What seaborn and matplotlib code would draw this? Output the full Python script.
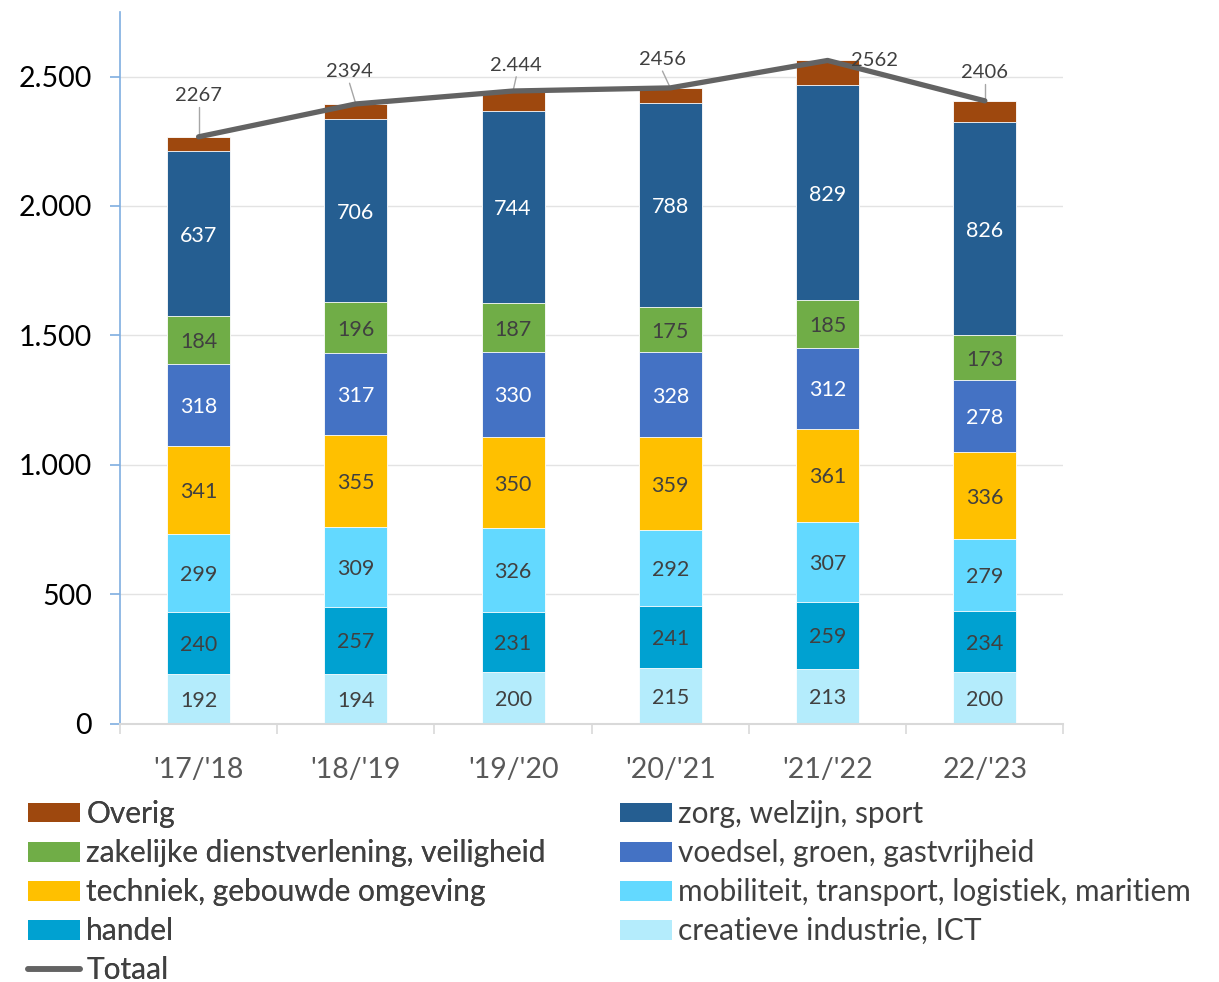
import matplotlib
matplotlib.use("Agg")
import matplotlib.pyplot as plt
import seaborn as sns
import numpy as np
import pandas as pd
from matplotlib.patches import Patch
from matplotlib.lines import Line2D

years = ["'17/'18", "'18/'19", "'19/'20", "'20/'21", "'21/'22", "22/'23"]
creatieve = [192, 194, 200, 215, 213, 200]
handel = [240, 257, 231, 241, 259, 234]
mobiliteit = [299, 309, 326, 292, 307, 279]
techniek = [341, 355, 350, 359, 361, 336]
voedsel = [318, 317, 330, 328, 312, 278]
zakelijk = [184, 196, 187, 175, 185, 173]
zorg = [637, 706, 744, 788, 829, 826]
overig = [56, 60, 76, 58, 96, 80]
totaal = [2267, 2394, 2444, 2456, 2562, 2406]
totaal_labels = ["2267", "2394", "2.444", "2456", "2562", "2406"]

series_names = ["creatieve industrie, ICT", "handel", "mobiliteit, transport, logistiek, maritiem",
                "techniek, gebouwde omgeving", "voedsel, groen, gastvrijheid",
                "zakelijke dienstverlening, veiligheid", "zorg, welzijn, sport", "Overig"]
series_vals = [creatieve, handel, mobiliteit, techniek, voedsel, zakelijk, zorg, overig]
colors = ["#B4ECFC", "#00A1D1", "#63D9FF", "#FFC000", "#4472C4", "#70AD47", "#255E91", "#9E480E"]
label_colors = ["#404040", "#404040", "#404040", "#404040", "white", "#404040", "white", None]

sns.set_theme(style="white")
plt.rcParams['font.family'] = ['Lato', 'DejaVu Sans']

fig = plt.figure(figsize=(12.19, 9.82), dpi=100)
ax = fig.add_axes([0.0984, 0.263, 0.774, 0.725])

arr = np.array(series_vals, dtype=float)
cum = np.cumsum(arr, axis=0)
bottoms = cum - arr

# draw cumulative from top down so lower ones overlay
for i in range(len(series_vals) - 1, -1, -1):
    df = pd.DataFrame({"year": years, "v": cum[i]})
    sns.barplot(data=df, x="year", y="v", color=colors[i], width=0.4, ax=ax,
                saturation=1, edgecolor="white", linewidth=0.6, zorder=2)

# segment labels
for i in range(len(series_vals) - 1):
    for j in range(len(years)):
        ax.text(j, bottoms[i, j] + arr[i, j] / 2 - 8, str(series_vals[i][j]),
                ha="center", va="center", fontsize=15.5, color=label_colors[i], zorder=4)

# total line
dfl = pd.DataFrame({"x": np.arange(len(years)), "t": totaal})
sns.lineplot(data=dfl, x="x", y="t", color="#636363", linewidth=3.8, ax=ax, zorder=5)

# total labels with leader lines
offsets = [(0, 160), (-0.04, 125), (0.02, 100), (-0.05, 110), (0.3, 0), (0, 110)]
for j, (dx, dy) in enumerate(offsets):
    lx, ly = j + dx, totaal[j] + dy
    ax.text(lx, ly, totaal_labels[j], ha="center", va="center", fontsize=14.5,
            color="#404040", zorder=6)
    if dy > 0:
        ax.plot([lx, j], [ly - 45, totaal[j]], color="#A6A6A6", lw=1, zorder=4)

ax.set_xlim(-0.5, len(years) - 0.5)
ax.set_ylim(0, 2750)
ax.set_yticks([0, 500, 1000, 1500, 2000, 2500])
ax.set_yticklabels(["0", "500", "1.000", "1.500", "2.000", "2.500"], fontsize=20.5, color="black")
ax.set_xticks(range(len(years)))
ax.set_xticklabels(years, fontsize=20.5, color="#595959")
ax.set_xticks(np.arange(-0.5, len(years)), minor=True)
ax.tick_params(axis="x", which="major", length=0, pad=24)
ax.tick_params(axis="x", which="minor", length=7, color="#D9D9D9", width=1.2, bottom=True)
ax.tick_params(axis="y", which="major", length=7, color="#7FAEE0", width=1.2, left=True, pad=13)
ax.set_xlabel("")
ax.set_ylabel("")
ax.grid(axis="y", color="#E3E3E3", lw=1, zorder=0)
ax.set_axisbelow(True)
for s in ["top", "right"]:
    ax.spines[s].set_visible(False)
ax.spines["left"].set_color("#7FAEE0")
ax.spines["left"].set_linewidth(1.2)
ax.spines["bottom"].set_color("#D9D9D9")
ax.spines["bottom"].set_linewidth(1.5)

# legend
def patch(i):
    return Patch(facecolor=colors[i], edgecolor="none", label=series_names[i])
left_handles = [patch(7), patch(5), patch(3), patch(1),
                Line2D([0], [0], color="#636363", lw=4, label="Totaal")]
right_handles = [patch(6), patch(4), patch(2), patch(0)]
leg_kw = dict(loc="upper left", frameon=False, fontsize=21.5, handlelength=1.75,
              handleheight=0.65, handletextpad=0.2, labelspacing=0.37,
              labelcolor="#404040", borderaxespad=0, borderpad=0)
leg1 = fig.legend(handles=left_handles, bbox_to_anchor=(28 / 1219, 1 - 800 / 982), **leg_kw)
fig.add_artist(leg1)
leg2 = fig.legend(handles=right_handles, bbox_to_anchor=(620 / 1219, 1 - 800 / 982), **leg_kw)

fig.savefig("out.png", dpi=100)
